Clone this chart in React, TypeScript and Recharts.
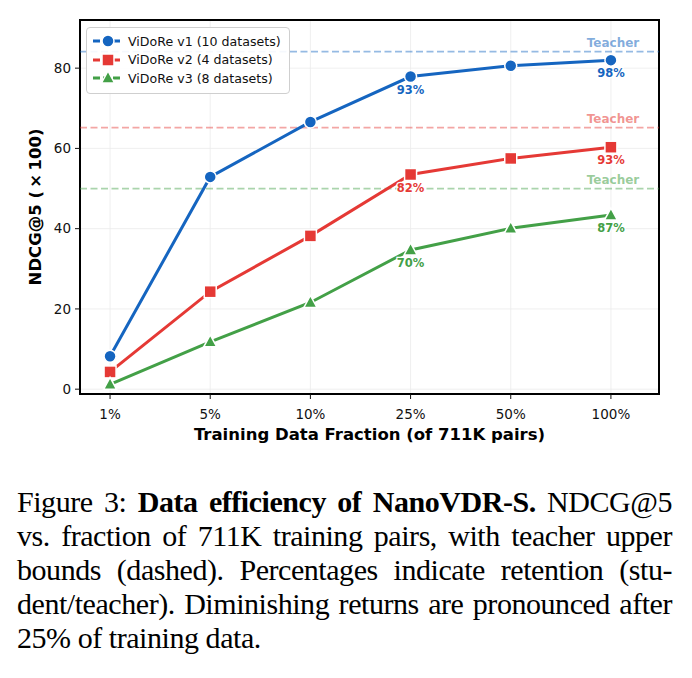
import React from 'react';
import {
  LineChart,
  Line,
  XAxis,
  YAxis,
  CartesianGrid,
  ReferenceLine,
  ReferenceArea,
  LabelList,
  Legend,
} from 'recharts';

const fractions = ['1%', '5%', '10%', '25%', '50%', '100%'];
const v1Scores = [8.2, 52.9, 66.6, 77.9, 80.6, 82.0];
const v2Scores = [4.3, 24.3, 38.2, 53.5, 57.5, 60.3];
const v3Scores = [1.2, 11.8, 21.6, 34.7, 40.1, 43.4];
const v1Teacher = 84.1;
const v2Teacher = 65.2;
const v3Teacher = 50.0;
// retention (student/teacher), only shown at 25% and 100%
const v1Retention = ['', '', '', '93%', '', '98%'];
const v2Retention = ['', '', '', '82%', '', '93%'];
const v3Retention = ['', '', '', '70%', '', '87%'];

const FONT = '"DejaVu Sans", sans-serif';

type MarkerShape = 'circle' | 'square' | 'triangle';

const series = [
  { key: 'v1', name: 'ViDoRe v1 (10 datasets)', color: '#1565C0', shape: 'circle' as MarkerShape, teacher: v1Teacher, retention: v1Retention },
  { key: 'v2', name: 'ViDoRe v2 (4 datasets)', color: '#E53935', shape: 'square' as MarkerShape, teacher: v2Teacher, retention: v2Retention },
  { key: 'v3', name: 'ViDoRe v3 (8 datasets)', color: '#43A047', shape: 'triangle' as MarkerShape, teacher: v3Teacher, retention: v3Retention },
];

const data = fractions.map((f, i) => ({
  x: i,
  label: f,
  v1: v1Scores[i],
  v2: v2Scores[i],
  v3: v3Scores[i],
}));

function Marker({ cx, cy, shape, color }: { cx: number; cy: number; shape: MarkerShape; color: string }) {
  if (cx == null || cy == null) return null;
  if (shape === 'circle') {
    return <circle cx={cx} cy={cy} r={6} fill={color} stroke="#fff" strokeWidth={1.5} />;
  }
  if (shape === 'square') {
    return <rect x={cx - 6} y={cy - 6} width={12} height={12} fill={color} stroke="#fff" strokeWidth={1.5} />;
  }
  const pts = `${cx},${cy - 7} ${cx - 6.5},${cy + 5} ${cx + 6.5},${cy + 5}`;
  return <polygon points={pts} fill={color} stroke="#fff" strokeWidth={1.5} />;
}

function TeacherLabel({ viewBox, color }: any) {
  if (!viewBox) return null;
  return (
    <text
      x={viewBox.x + viewBox.width - 46}
      y={viewBox.y - 5}
      textAnchor="middle"
      fontFamily={FONT}
      fontSize={12}
      fontWeight="bold"
      fill={color}
      fillOpacity={0.55}
    >
      Teacher
    </text>
  );
}

function LegendBox() {
  return (
    <div
      style={{
        background: 'rgba(255,255,255,0.9)',
        border: '1px solid #cfcfcf',
        borderRadius: 4,
        padding: '4px 8px 5px 6px',
        fontFamily: FONT,
        fontSize: 12.6,
        color: '#111',
      }}
    >
      {series.map((s) => (
        <div key={s.key} style={{ display: 'flex', alignItems: 'center', height: 18.5 }}>
          <svg width={30} height={16} style={{ marginRight: 5 }}>
            <line x1={0} y1={8} x2={30} y2={8} stroke={s.color} strokeWidth={2.8} strokeDasharray="7 3" />
            <Marker cx={15} cy={8} shape={s.shape} color={s.color} />
          </svg>
          <span style={{ whiteSpace: 'nowrap' }}>{s.name}</span>
        </div>
      ))}
    </div>
  );
}

const captionLines = [
  <>Figure 3: <b>Data efficiency of NanoVDR-S.</b> NDCG@5</>,
  <>vs. fraction of 711K training pairs, with teacher upper</>,
  <>bounds (dashed). Percentages indicate retention (stu-</>,
  <>dent/teacher). Diminishing returns are pronounced after</>,
  <>25% of training data.</>,
];

export default function App() {
  return (
    <div style={{ position: 'absolute', left: 0, top: 0, width: 692, height: 678, background: '#fff' }}>
      <LineChart width={692} height={460} data={data} margin={{ top: 20, right: 33, bottom: 16, left: 0 }}>
        <CartesianGrid stroke="#ebebeb" strokeWidth={0.8} />
        <XAxis
          dataKey="x"
          type="number"
          domain={[-0.3, 5.48]}
          ticks={[0, 1, 2, 3, 4, 5]}
          tickFormatter={(v) => fractions[v]}
          allowDataOverflow
          height={50}
          axisLine={false}
          tickSize={5}
          tickMargin={10}
          tickLine={{ stroke: '#111', strokeWidth: 1 }}
          tick={{ fontSize: 13.5, fill: '#111', fontFamily: FONT }}
          label={{
            value: 'Training Data Fraction (of 711K pairs)',
            position: 'insideBottom',
            offset: 4,
            style: { fontSize: 16.5, fontWeight: 'bold', fill: '#000', fontFamily: FONT },
          }}
        />
        <YAxis
          type="number"
          domain={[-1.2, 92]}
          ticks={[0, 20, 40, 60, 80]}
          allowDataOverflow
          width={80}
          axisLine={false}
          tickSize={5}
          tickMargin={4}
          tickLine={{ stroke: '#111', strokeWidth: 1 }}
          tick={{ fontSize: 13.5, fill: '#111', fontFamily: FONT }}
          label={{
            value: 'NDCG@5 (\u2009×\u2009100)',
            angle: -90,
            position: 'insideLeft',
            offset: 35,
            style: { textAnchor: 'middle', fontSize: 16.5, fontWeight: 'bold', fill: '#000', fontFamily: FONT },
          }}
        />
        {series.map((s) => (
          <ReferenceLine
            key={`t-${s.key}`}
            y={s.teacher}
            stroke={s.color}
            strokeOpacity={0.45}
            strokeWidth={1.8}
            strokeDasharray="7 3.5"
            label={<TeacherLabel color={s.color} />}
          />
        ))}
        <ReferenceArea
          x1={-0.3}
          x2={5.48}
          y1={-1.2}
          y2={92}
          fill="none"
          stroke="#000"
          strokeWidth={2}
          ifOverflow="visible"
        />
        {series.map((s) => (
          <Line
            key={s.key}
            dataKey={s.key}
            name={s.name}
            type="linear"
            stroke={s.color}
            strokeWidth={3}
            isAnimationActive={false}
            dot={(p: any) => <Marker key={`${s.key}-${p.index}`} cx={p.cx} cy={p.cy} shape={s.shape} color={s.color} />}
            activeDot={false}
          >
            <LabelList
              dataKey={s.key}
              content={(p: any) => {
                const t = s.retention[p.index];
                if (!t) return null;
                return (
                  <text
                    x={p.x}
                    y={p.y + 13}
                    dy="0.35em"
                    textAnchor="middle"
                    fontFamily={FONT}
                    fontSize={11.5}
                    fontWeight="bold"
                    fill={s.color}
                    stroke="#fff"
                    strokeWidth={2.5}
                    paintOrder="stroke"
                  >
                    {t}
                  </text>
                );
              }}
            />
          </Line>
        ))}
        <Legend
          layout="vertical"
          align="center"
          verticalAlign="middle"
          wrapperStyle={{ left: 86, top: 27, width: 'auto' }}
          content={() => <LegendBox />}
        />
      </LineChart>
      <div
        style={{
          position: 'absolute',
          left: 17,
          top: 485,
          width: 655,
          fontFamily: '"Liberation Serif", "Times New Roman", serif',
          fontSize: 30,
          letterSpacing: -0.45,
          lineHeight: '34px',
          color: '#000',
        }}
      >
        {captionLines.map((line, i) => (
          <div
            key={i}
            style={{
              textAlign: 'justify',
              textAlignLast: i < captionLines.length - 1 ? 'justify' : 'left',
              whiteSpace: 'nowrap',
            }}
          >
            {line}
          </div>
        ))}
      </div>
    </div>
  );
}
